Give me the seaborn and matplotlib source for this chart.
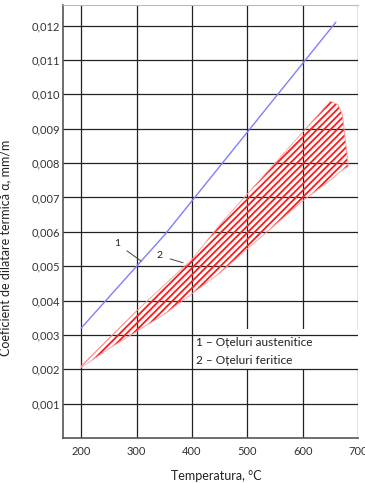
import matplotlib
matplotlib.use("Agg")
import matplotlib.pyplot as plt
import seaborn as sns
import numpy as np
import pandas as pd
from matplotlib.patches import Rectangle

# ---- data ----
temp_ticks = [200, 300, 400, 500, 600, 700]
alpha_ticks = [0.001, 0.002, 0.003, 0.004, 0.005, 0.006, 0.007, 0.008, 0.009, 0.010, 0.011, 0.012]

aust_T = [200, 250, 300, 350, 400, 450, 500, 550, 600, 660]
aust_a = [0.0032, 0.0041, 0.0050, 0.0059, 0.0069, 0.0079, 0.0089, 0.0099, 0.0109, 0.0121]

ferit_T = [200, 250, 300, 350, 400, 450, 500, 550, 600, 650, 664, 672, 682]
ferit_upper = [0.0021, 0.0029, 0.0037, 0.00445, 0.0052, 0.0062, 0.0071, 0.0080, 0.0089, 0.0098, 0.0097, 0.0094, 0.0080]
ferit_lower = [0.00205, 0.0026, 0.0031, 0.0036, 0.0042, 0.0048, 0.0055, 0.0062, 0.0069, 0.0075, 0.0077, 0.0078, 0.0079]

legend_lines = ["1 – Oțeluri austenitice", "2 – Oțeluri feritice"]

sns.set_style("white")
plt.rcParams["font.family"] = ["Lato", "DejaVu Sans"]
plt.rcParams["hatch.linewidth"] = 1.3

fig = plt.figure(figsize=(3.65, 4.83), dpi=100)
ax = fig.add_axes([63/365, 45/483, 295/365, 433/483])

df_a = pd.DataFrame({"T": aust_T, "a": aust_a})
sns.lineplot(data=df_a, x="T", y="a", ax=ax, color="#7f7fff", lw=1.0, zorder=4)

ax.fill_between(ferit_T, ferit_lower, ferit_upper, facecolor="none",
                edgecolor="#ff1a1a", hatch="/" * 5, lw=0, zorder=3)
ax.fill_between(ferit_T, ferit_lower, ferit_upper, facecolor="none",
                edgecolor="#ff9a9a", lw=0.6, zorder=3)

ax.set_xlim(167, 700)
ax.set_ylim(0, 0.0126)

# grid (vertical below legend box, horizontal above)
for t in temp_ticks:
    ax.axvline(t, color="#222222", lw=0.9, zorder=1)
for a in alpha_ticks:
    ax.axhline(a, color="#222222", lw=0.9, zorder=2.5)

ax.add_patch(Rectangle((404, 0.00198), 300, 0.00119, facecolor="white",
                       edgecolor="none", zorder=2))
ax.text(407, 0.00252, "\n".join(legend_lines), fontsize=8.6, va="center",
        ha="left", linespacing=1.75, color="#222222", zorder=5)

ax.annotate("1", xy=(308, 0.00515), xytext=(265, 0.00565), fontsize=7.5,
            ha="center", va="center", color="#222222",
            arrowprops=dict(arrowstyle="-", color="#444444", lw=0.7,
                            shrinkA=3, shrinkB=0), zorder=6)
ax.annotate("2", xy=(384, 0.0051), xytext=(342, 0.0053), fontsize=7.5,
            ha="center", va="center", color="#222222",
            arrowprops=dict(arrowstyle="-", color="#444444", lw=0.7,
                            shrinkA=3, shrinkB=0), zorder=6)

ax.set_xticks(temp_ticks)
ax.set_xticklabels([str(t) for t in temp_ticks])
ax.set_yticks(alpha_ticks)
ax.set_yticklabels([f"{a:.3f}".replace(".", ",") for a in alpha_ticks])
ax.tick_params(axis="both", length=0, labelsize=8, colors="#333333")
ax.tick_params(axis="y", pad=2)
ax.tick_params(axis="x", pad=6)

ax.set_xlabel("Temperatura, °C", fontsize=9, color="#222222")
ax.set_ylabel("Coeficient de dilatare termică α, mm/m", fontsize=9, color="#222222")
ax.xaxis.set_label_coords(0.52, -0.075)
ax.yaxis.set_label_coords(-0.175, 0.44)

for s in ["left", "bottom"]:
    ax.spines[s].set_color("#555555")
    ax.spines[s].set_linewidth(1.2)
ax.spines["top"].set_color("#bbbbbb")
ax.spines["right"].set_visible(False)

fig.savefig("out.png", dpi=100)
